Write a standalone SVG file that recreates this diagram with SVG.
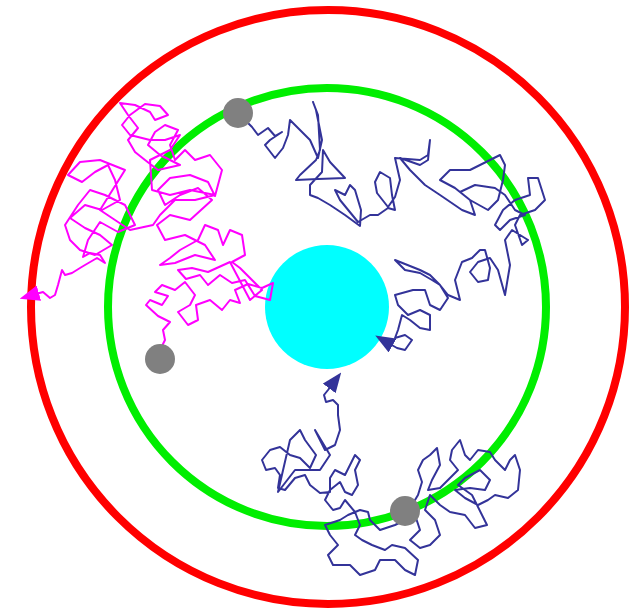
<svg xmlns="http://www.w3.org/2000/svg" width="635" height="610" viewBox="0 0 635 610">
<style>
.ring{fill:none;stroke-width:8}
.walk{fill:none;stroke-width:2;stroke-linejoin:round;stroke-linecap:round}
.mag{stroke:#ff00ff}
.blu{stroke:#333399}
.dot{fill:#808080}
</style>
<defs>
<marker id="amag" markerUnits="userSpaceOnUse" viewBox="0 0 20 16" refX="3" refY="8" markerWidth="20" markerHeight="16" orient="auto"><path d="M0,0 L20,8 L0,16 z" fill="#ff00ff"/></marker>
<marker id="ablu" markerUnits="userSpaceOnUse" viewBox="0 0 20 16" refX="3" refY="8" markerWidth="20" markerHeight="16" orient="auto"><path d="M0,0 L20,8 L0,16 z" fill="#333399"/></marker>
</defs>
<g id="outer"><circle class="ring" cx="328" cy="307" r="297" stroke="#ff0000"/></g>
<g id="middle"><circle class="ring" cx="327" cy="307" r="219" stroke="#00ee00"/></g>
<g id="target"><circle cx="327" cy="307" r="62" fill="#00ffff"/></g>
<g id="walks">
<path class="walk mag" marker-end="url(#amag)" d="M160,350 L165,340 L163,330 L170,322 L158,316 L146,305 L150,300 L162,305 L168,296 L155,292 L162,285 L175,290 L185,282 L195,295 L190,305 L178,312 L188,325 L198,320 L196,305 L210,300 L222,310 L230,300 L240,303 L235,290 L248,284 L262,288 L273,283 L270,300 L255,296 L245,280 L232,283 L220,275 L208,285 L200,275 L186,279 L178,270 L192,268 L208,272 L230,262 L250,300 L262,290 L240,268 L232,262 L245,255 L242,235 L230,230 L223,245 L218,230 L205,225 L198,240 L180,250 L170,258 L160,265 L175,263 L195,255 L215,260 L205,245 L185,235 L165,240 L157,225 L170,215 L190,220 L212,200 L198,188 L180,195 L165,205 L158,190 L170,178 L190,175 L208,182 L215,196 L222,170 L210,155 L195,160 L185,150 L175,160 L170,145 L178,130 L165,125 L155,132 L148,145 L160,155 L180,165 L158,170 L145,160 L135,152 L128,140 L138,128 L128,115 L120,103 L135,105 L150,112 L155,120 L168,115 L160,106 L145,104 L130,115 L122,125 L130,135 L150,140 L165,140 L180,135 L170,150 L150,160 L152,190 L170,195 L190,190 L215,195 L195,200 L175,200 L160,215 L153,225 L130,230 L115,220 L100,210 L125,170 L100,160 L80,162 L68,175 L82,182 L95,172 L108,165 L115,180 L120,200 L102,210 L85,205 L70,218 L85,228 L100,235 L112,245 L95,255 L80,250 L70,240 L65,225 L78,205 L90,190 L105,195 L125,205 L135,225 L118,232 L100,222 L88,240 L83,257 L90,253 L100,255 L105,263 L97,258 L85,265 L80,268 L72,273 L65,275 L62,270 L58,285 L55,295 L50,298 L43,292 L36,294"/>
<path class="walk blu" marker-end="url(#ablu)" d="M245,120 L252,127 L258,135 L268,128 L275,136 L282,132 L270,140 L265,145 L275,158 L283,148 L288,135 L290,120 L300,130 L310,140 L318,158 L322,140 L316,110 L313,102 L318,115 L320,150 L316,160 L300,175 L296,180 L318,179 L345,178 L330,162 L323,150 L322,172 L310,185 L310,195 L318,198 L330,205 L345,215 L360,226 L361,210 L355,190 L350,185 L345,195 L335,190 L340,200 L358,222 L370,215 L378,215 L388,208 L395,210 L392,195 L390,178 L380,172 L375,182 L377,193 L388,207 L395,197 L400,180 L395,158 L420,160 L428,155 L430,140 L428,160 L420,165 L400,158 L410,170 L425,185 L440,195 L462,210 L475,215 L470,200 L455,188 L440,180 L450,170 L470,170 L480,165 L490,160 L500,155 L505,165 L503,180 L498,200 L488,210 L470,200 L460,192 L475,185 L495,188 L505,195 L515,210 L525,215 L510,220 L500,230 L495,225 L503,210 L515,200 L530,195 L528,178 L538,178 L545,200 L535,210 L520,215 L515,225 L522,245 L528,240 L512,230 L505,240 L510,265 L505,295 L498,270 L490,258 L478,262 L470,272 L478,282 L488,280 L490,268 L485,250 L480,250 L472,258 L462,262 L455,280 L460,300 L448,295 L440,285 L430,275 L420,270 L395,260 L405,270 L420,273 L432,280 L440,285 L448,298 L440,310 L430,305 L425,290 L413,290 L395,295 L398,305 L408,315 L420,310 L430,315 L430,330 L420,328 L410,320 L402,315 L398,330 L395,338 L405,335 L412,340 L405,350 L397,348 L390,344"/>
<path class="walk blu" marker-end="url(#ablu)" d="M412,505 L418,495 L422,482 L418,470 L423,460 L430,455 L437,448 L440,465 L432,480 L428,490 L440,488 L450,478 L458,470 L450,460 L452,450 L460,440 L465,455 L470,460 L478,450 L490,452 L495,460 L505,470 L510,460 L515,455 L520,470 L518,490 L508,498 L495,495 L488,500 L478,505 L465,498 L455,490 L470,488 L485,490 L490,480 L480,470 L465,478 L458,485 L472,495 L487,525 L475,528 L465,515 L450,512 L440,505 L430,495 L425,510 L435,520 L440,535 L430,545 L420,548 L410,540 L420,530 L415,515 L405,520 L395,525 L380,530 L370,520 L368,512 L360,510 L348,515 L340,520 L325,525 L330,535 L338,545 L328,555 L333,565 L350,565 L360,575 L375,570 L380,560 L395,560 L405,570 L415,575 L418,560 L405,548 L392,545 L385,550 L372,545 L362,540 L355,535 L360,525 L355,512 L345,500 L340,508 L333,510 L325,500 L330,490 L340,482 L345,492 L352,495 L358,485 L355,470 L360,460 L355,455 L350,465 L345,475 L335,470 L330,478 L330,492 L320,493 L310,485 L305,475 L295,478 L285,490 L278,488 L280,475 L275,468 L266,470 L262,460 L270,450 L280,447 L290,455 L300,458 L310,468 L316,455 L305,440 L300,430 L290,440 L278,492 L295,470 L320,470 L330,455 L315,430 L320,440 L325,450 L335,445 L340,430 L338,415 L338,405 L333,400 L326,402 L324,395 L328,390 L331,386"/>
</g>
<g id="start1"><circle class="dot" cx="238" cy="113" r="15"/></g>
<g id="start2"><circle class="dot" cx="160" cy="359" r="15"/></g>
<g id="start3"><circle class="dot" cx="405" cy="511" r="15"/></g>
</svg>
